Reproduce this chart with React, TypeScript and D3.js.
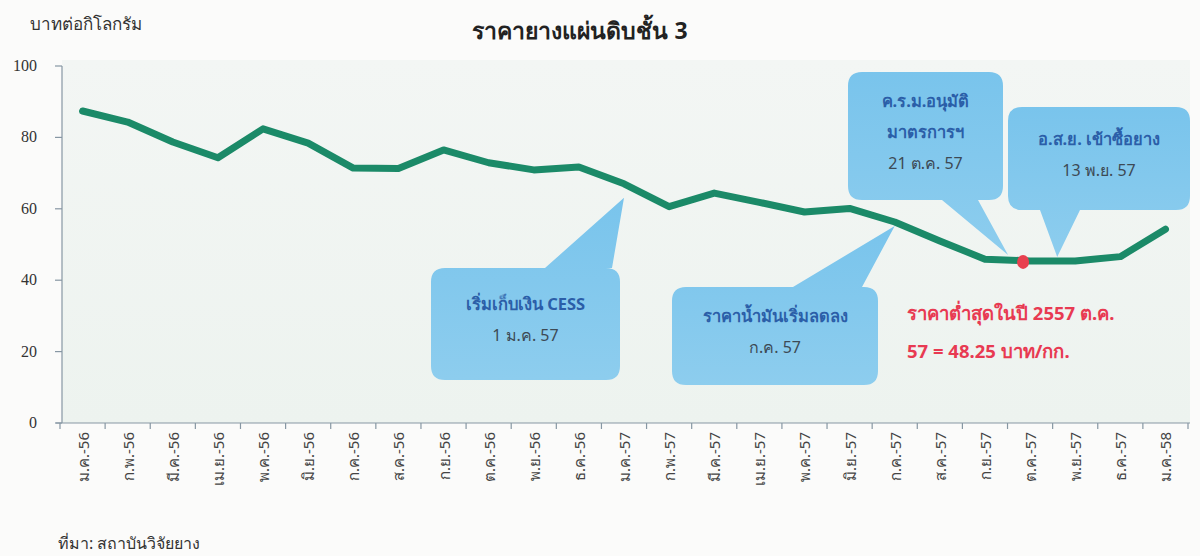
import React from "react";
import * as d3 from "d3";

const months = [
  "ม.ค.-56", "ก.พ.-56", "มี.ค.-56", "เม.ย.-56", "พ.ค.-56", "มิ.ย.-56",
  "ก.ค.-56", "ส.ค.-56", "ก.ย.-56", "ต.ค.-56", "พ.ย.-56", "ธ.ค.-56",
  "ม.ค.-57", "ก.พ.-57", "มี.ค.-57", "เม.ย.-57", "พ.ค.-57", "มิ.ย.-57",
  "ก.ค.-57", "ส.ค.-57", "ก.ย.-57", "ต.ค.-57", "พ.ย.-57", "ธ.ค.-57", "ม.ค.-58",
];
const prices = [
  87.4, 84.3, 78.7, 74.3, 82.4, 78.4,
  71.4, 71.3, 76.5, 72.9, 70.9, 71.7,
  67.0, 60.6, 64.4, 61.8, 59.1, 60.1,
  56.3, 51.0, 45.9, 45.4, 45.4, 46.6, 54.3,
];
const yTicks = [0, 20, 40, 60, 80, 100];

const title = "ราคายางแผ่นดิบชั้น 3";
const yLabel = "บาทต่อกิโลกรัม";
const source = "ที่มา: สถาบันวิจัยยาง";
const lowNote = ["ราคาต่ำสุดในปี 2557 ต.ค.", "57 = 48.25 บาท/กก."];

const W = 1200, H = 556;
const X0 = 60, X1 = 1188, Y0 = 423, Y1 = 66;

const THAI = "'Noto Sans', 'DejaVu Sans', sans-serif";

type Callout = {
  lines: string[];
  sub: string;
  box: [number, number, number, number];
  base: [number, number];
  month: string;
  dx: number;
  dy: number;
  side: "top" | "bottom";
};

const callouts: Callout[] = [
  { lines: ["เริ่มเก็บเงิน CESS"], sub: "1 ม.ค. 57", box: [431, 268, 189, 112], base: [545, 612], month: "ม.ค.-57", dx: 0, dy: 14, side: "top" },
  { lines: ["ราคาน้ำมันเริ่มลดลง"], sub: "ก.ค. 57", box: [672, 287, 206, 98], base: [793, 862], month: "ก.ค.-57", dx: 0, dy: 4, side: "top" },
  { lines: ["ค.ร.ม.อนุมัติ", "มาตรการฯ"], sub: "21 ต.ค. 57", box: [848, 72, 155, 128], base: [942, 978], month: "ต.ค.-57", dx: -22, dy: -6, side: "bottom" },
  { lines: ["อ.ส.ย. เข้าซื้อยาง"], sub: "13 พ.ย. 57", box: [1008, 107, 182, 103], base: [1040, 1080], month: "พ.ย.-57", dx: -18, dy: -4, side: "bottom" },
];

export default function App() {
  const x = d3.scaleBand<string>().domain(months).range([X0, X1]).padding(0);
  const y = d3.scaleLinear().domain([0, 100]).range([Y0, Y1]);
  const cx = (m: string) => (x(m) as number) + x.bandwidth() / 2;

  const line = d3
    .line<number>()
    .x((_, i) => cx(months[i]))
    .y((d) => y(d))
    .curve(d3.curveLinear);

  const boundaries = months.map((m) => x(m) as number).concat([X1]);

  const calloutPath = (c: Callout) => {
    const [bx, by, bw, bh] = c.box;
    const r = 14;
    const tx = cx(c.month) + c.dx;
    const ty = y(prices[months.indexOf(c.month)]) + c.dy;
    const [b0, b1] = c.base;
    if (c.side === "top") {
      return `M${bx + r},${by} L${b0},${by} L${tx},${ty} L${b1},${by} L${bx + bw - r},${by} Q${bx + bw},${by} ${bx + bw},${by + r} L${bx + bw},${by + bh - r} Q${bx + bw},${by + bh} ${bx + bw - r},${by + bh} L${bx + r},${by + bh} Q${bx},${by + bh} ${bx},${by + bh - r} L${bx},${by + r} Q${bx},${by} ${bx + r},${by} Z`;
    }
    return `M${bx + r},${by} L${bx + bw - r},${by} Q${bx + bw},${by} ${bx + bw},${by + r} L${bx + bw},${by + bh - r} Q${bx + bw},${by + bh} ${bx + bw - r},${by + bh} L${b1},${by + bh} L${tx},${ty} L${b0},${by + bh} L${bx + r},${by + bh} Q${bx},${by + bh} ${bx},${by + bh - r} L${bx},${by + r} Q${bx},${by} ${bx + r},${by} Z`;
  };

  const octIdx = months.indexOf("ต.ค.-57");

  return (
    <svg width={W} height={H} style={{ position: "absolute", left: 0, top: 0, background: "#fbfbfa" }}>
      <defs>
        <linearGradient id="plotbg" x1="0" y1="0" x2="0" y2="1">
          <stop offset="0" stopColor="#f3f6f4" />
          <stop offset="1" stopColor="#edf3ef" />
        </linearGradient>
        <linearGradient id="bubble" x1="0" y1="0" x2="0" y2="1">
          <stop offset="0" stopColor="#79c4ec" />
          <stop offset="1" stopColor="#8dcdee" />
        </linearGradient>
      </defs>
      <rect x={X0 + 2} y={Y1 - 6} width={X1 - X0} height={Y0 - Y1 + 6} fill="url(#plotbg)" />

      <text x={580} y={39} textAnchor="middle" fontFamily={THAI} fontWeight="bold" fontSize={23} fill="#222">{title}</text>
      <text x={30} y={30} fontFamily={THAI} fontSize={17} fill="#333">{yLabel}</text>

      {/* y axis */}
      <line x1={X0 + 2} x2={X0 + 2} y1={Y1} y2={Y0} stroke="#8797a3" strokeWidth={1.2} />
      {yTicks.map((t) => (
        <g key={t}>
          <line x1={X0 - 5} x2={X0 + 2} y1={y(t)} y2={y(t)} stroke="#8797a3" strokeWidth={1.2} />
          <text x={37} y={y(t) + 5} textAnchor="end" fontFamily="'Liberation Serif', serif" fontSize={16} fill="#333">{t}</text>
        </g>
      ))}

      {/* x axis */}
      <line x1={X0 - 4} x2={X1 + 2} y1={Y0} y2={Y0} stroke="#8797a3" strokeWidth={1.2} />
      {boundaries.map((b, i) => (
        <line key={i} x1={b} x2={b} y1={Y0} y2={Y0 + 6} stroke="#8797a3" strokeWidth={1.2} />
      ))}
      {months.map((m) => (
        <text key={m} transform={`translate(${cx(m) + 6},${Y0 + 9}) rotate(-90)`} textAnchor="end" fontFamily={THAI} fontSize={15} fill="#444">{m}</text>
      ))}

      {/* callouts */}
      {callouts.map((c, i) => {
        const [bx, by, bw, bh] = c.box;
        const mid = bx + bw / 2;
        const n = c.lines.length;
        const startY = by + bh / 2 - ((n + 1) * 31) / 2 + 17;
        return (
          <g key={i}>
            <path d={calloutPath(c)} fill="url(#bubble)" />
            {c.lines.map((l, j) => (
              <text key={j} x={mid} y={startY + j * 31} textAnchor="middle" fontFamily={THAI} fontWeight="bold" fontSize={16.5} fill="#2b5ea8">{l}</text>
            ))}
            <text x={mid} y={startY + n * 31} textAnchor="middle" fontFamily={THAI} fontSize={16} fill="#3d4a55">{c.sub}</text>
          </g>
        );
      })}

      <path d={line(prices) || ""} fill="none" stroke="#1b8a68" strokeWidth={7} strokeLinejoin="round" strokeLinecap="round" />
      <ellipse cx={cx(months[octIdx]) - 7} cy={y(prices[octIdx]) + 1} rx={6} ry={7} fill="#e8404f" />

      {/* low note */}
      {lowNote.map((t, i) => (
        <text key={i} x={907} y={320 + i * 38} fontFamily={THAI} fontWeight="bold" fontSize={18.5} fill="#e83a52">{t}</text>
      ))}

      <text x={58} y={549} fontFamily={THAI} fontSize={16} fill="#333">{source}</text>
    </svg>
  );
}
